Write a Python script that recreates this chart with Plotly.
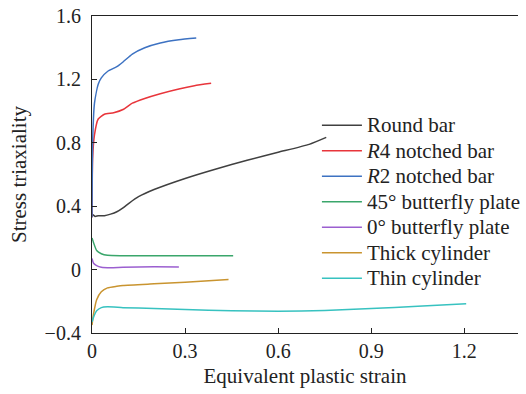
import plotly.graph_objects as go

# Data
round_x = [0, 0, 0.01, 0.02, 0.04, 0.06, 0.08, 0.10, 0.12, 0.15, 0.2, 0.3, 0.4, 0.5, 0.6, 0.7, 0.755]
round_y = [0.33, 0.35, 0.335, 0.34, 0.34, 0.35, 0.365, 0.39, 0.42, 0.46, 0.505, 0.575, 0.635, 0.69, 0.74, 0.79, 0.834]

r4_x = [0, 0.002, 0.008, 0.02, 0.04, 0.07, 0.1, 0.13, 0.17, 0.22, 0.28, 0.33, 0.384]
r4_y = [0.33, 0.70, 0.85, 0.95, 0.98, 0.99, 1.01, 1.05, 1.08, 1.11, 1.14, 1.16, 1.175]

r2_x = [0, 0.002, 0.008, 0.02, 0.03, 0.05, 0.08, 0.1, 0.13, 0.17, 0.22, 0.28, 0.336]
r2_y = [0.33, 0.80, 1.05, 1.17, 1.21, 1.25, 1.28, 1.31, 1.36, 1.40, 1.43, 1.45, 1.461]

b45_x = [0, 0.005, 0.015, 0.03, 0.05, 0.1, 0.2, 0.3, 0.4, 0.455]
b45_y = [0.20, 0.17, 0.12, 0.10, 0.09, 0.088, 0.087, 0.087, 0.087, 0.088]

b0_x = [0, 0.005, 0.015, 0.03, 0.06, 0.1, 0.2, 0.28]
b0_y = [0.07, 0.04, 0.025, 0.015, 0.012, 0.015, 0.018, 0.017]

thick_x = [0, 0.005, 0.015, 0.03, 0.05, 0.08, 0.1, 0.2, 0.3, 0.44]
thick_y = [-0.35, -0.28, -0.19, -0.14, -0.115, -0.105, -0.10, -0.09, -0.08, -0.063]

thin_x = [0, 0.005, 0.015, 0.03, 0.05, 0.1, 0.2, 0.3, 0.45, 0.6, 0.75, 0.9, 1.05, 1.206]
thin_y = [-0.33, -0.30, -0.26, -0.24, -0.235, -0.24, -0.245, -0.252, -0.26, -0.263, -0.258, -0.245, -0.232, -0.215]

names = ["Round bar", "<i>R</i>4 notched bar", "<i>R</i>2 notched bar", "45° butterfly plate",
         "0° butterfly plate", "Thick cylinder", "Thin cylinder"]
xs_all = [round_x, r4_x, r2_x, b45_x, b0_x, thick_x, thin_x]
ys_all = [round_y, r4_y, r2_y, b45_y, b0_y, thick_y, thin_y]
colors = ["#404040", "#e8353b", "#3d72c2", "#3aa66b", "#9b5fd0", "#c9942f", "#37c2c0"]

x_ticks = [0, 0.3, 0.6, 0.9, 1.2]
x_tick_text = ["0", "0.3", "0.6", "0.9", "1.2"]
y_ticks = [-0.4, 0, 0.4, 0.8, 1.2, 1.6]
y_tick_text = ["\u22120.4", "0", "0.4", "0.8", "1.2", "1.6"]

fig = go.Figure()
for name, xs, ys, c in zip(names, xs_all, ys_all, colors):
    fig.add_trace(go.Scatter(x=xs, y=ys, mode="lines",
                             name='<span style="font-size:21px">' + name + '</span>',
                             line=dict(color=c, width=1.5, shape="spline", smoothing=0.5)))

font = "Liberation Serif"
fig.update_layout(
    width=526, height=394,
    margin=dict(l=92, r=0, t=16, b=61),
    paper_bgcolor="white", plot_bgcolor="white",
    font=dict(family=font, size=20, color="#222"),
    showlegend=True,
    legend=dict(x=0.528, y=0.711, xanchor="left", yanchor="top",
                bgcolor="rgba(0,0,0,0)", font=dict(family=font, size=17.3, color="#222"),
                tracegroupgap=0, itemwidth=40),
    xaxis=dict(range=[0, 1.373], tickvals=x_ticks, ticktext=x_tick_text,
               ticks="inside", ticklen=5, tickcolor="#222", showline=True, linecolor="#222",
               linewidth=1.2, mirror=True, showgrid=False, zeroline=False, automargin=False,
               title=dict(text="Equivalent plastic strain", standoff=7,
                          font=dict(family=font, size=21)),
               tickfont=dict(family=font, size=20)),
    yaxis=dict(range=[-0.4, 1.6], tickvals=y_ticks, ticktext=y_tick_text,
               ticks="inside", ticklen=5, tickcolor="#222", showline=True, linecolor="#222",
               linewidth=1.2, mirror=False, showgrid=False, zeroline=False, automargin=False,
               ticklabelstandoff=6,
               title=dict(text="Stress triaxiality", standoff=12,
                          font=dict(family=font, size=21)),
               tickfont=dict(family=font, size=20)),
)
fig.write_html("out.html")
